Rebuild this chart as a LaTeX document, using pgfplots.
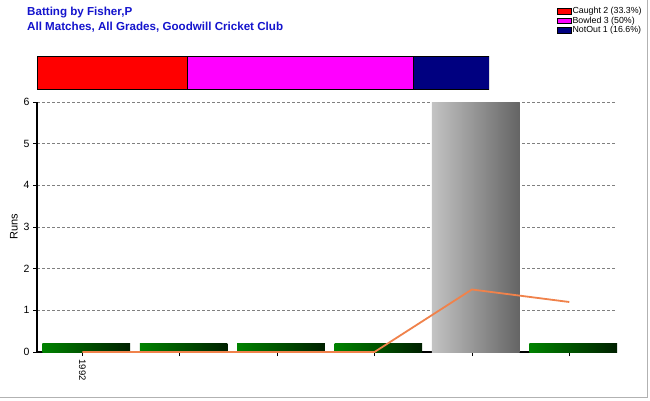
\documentclass[border=0pt]{standalone}
\usepackage{fontspec}
\setmainfont{Liberation Sans}
\usepackage{pgfplots}
\pgfplotsset{compat=1.18}
\definecolor{titleblue}{RGB}{20,20,205}
\definecolor{lineorange}{RGB}{240,130,75}
\definecolor{grlight}{RGB}{0,130,0}
\definecolor{grdark}{RGB}{0,32,0}
\definecolor{gylight}{RGB}{195,195,195}
\definecolor{gydark}{RGB}{100,100,100}
\definecolor{navyc}{RGB}{0,0,128}
\definecolor{magc}{RGB}{255,0,255}
\definecolor{redc}{RGB}{255,0,0}
\begin{document}
\begin{tikzpicture}[x=1pt,y=1pt]
\useasboundingbox (0,0) rectangle (650,400);
\fill[white] (0,0) rectangle (650,400);
\draw[gray!60, line width=1pt] (0,2.5) -- (647.5,2.5) -- (647.5,400);
\node[anchor=base west, text=titleblue, font=\fontsize{11.6}{14}\selectfont\bfseries, inner sep=0] at (27,384) {Batting by Fisher,P};
\node[anchor=base west, text=titleblue, font=\fontsize{11.6}{14}\selectfont\bfseries, inner sep=0] at (27,370) {All Matches, All Grades, Goodwill Cricket Club};

% stacked dismissal bar
\begin{axis}[
  at={(37pt,311pt)}, anchor=south west,
  scale only axis, width=452pt, height=32pt,
  xmin=0, xmax=6, ymin=0, ymax=1,
  hide axis, xbar stacked, bar width=1,
  mylegend/.style={legend image code/.code={\draw[##1, line width=0.6pt, draw=black] (0pt,-2.8pt) rectangle (14pt,2.8pt);}},
  legend style={at={(axis description cs:1.1504,2.58)}, anchor=north west, draw=none, fill=none,
    inner sep=0pt, row sep=0pt,
    font=\fontsize{8.8}{9}\selectfont,
    nodes={inner sep=0.8pt, text height=6.3pt, text depth=1.6pt}},
  legend cell align=left,
]
\addplot[fill=redc, draw=black, line width=1pt, mylegend] coordinates {(2,0.5)};
\addplot[fill=magc, draw=black, line width=1pt, mylegend] coordinates {(3,0.5)};
\addplot[fill=navyc, draw=black, line width=1pt, mylegend] coordinates {(1,0.5)};
\legend{Caught 2 (33.3\%), Bowled 3 (50\%), NotOut 1 (16.6\%)}
\end{axis}

% main runs chart
\begin{axis}[
  at={(37pt,48pt)}, anchor=south west,
  scale only axis, width=580pt, height=250pt,
  xmin=-0.465, xmax=5.49, ymin=0, ymax=6,
  axis x line*=bottom, axis y line*=left,
  axis line style={line width=1.8pt, -},
  xtick={0,1,2,3,4,5}, xticklabels={1992,,,,,},
  x tick label style={rotate=-90, anchor=west, font=\fontsize{9.5}{10}\selectfont},
  ytick={0,1,2,3,4,5,6},
  y tick label style={font=\fontsize{10.5}{12}\selectfont},
  tick style={black, thin}, tick align=outside, major tick length=4pt,
  ymajorgrids, grid style={gray, thin, dash pattern=on 3pt off 2pt},
  ylabel={Runs},
  ylabel style={at={(axis description cs:-0.0397,0.5)}, anchor=center, font=\fontsize{11}{13}\selectfont},
  /pgf/number format/assume math mode=true,
  greenbar/.style={ybar, bar width=0.9, bar shift=0.04, draw=none, left color=grlight, right color=grdark},
]
\addplot[greenbar] coordinates {(0,0.2)};
\addplot[greenbar] coordinates {(1,0.2)};
\addplot[greenbar] coordinates {(2,0.2)};
\addplot[greenbar] coordinates {(3,0.2)};
\addplot[greenbar] coordinates {(5,0.2)};
\addplot[ybar, bar width=0.9, bar shift=0.04, draw=none, left color=gylight, right color=gydark]
  coordinates {(4,6)};
\addplot[lineorange, line width=1.8pt, no marks]
  coordinates {(0,0) (1,0) (2,0) (3,0) (4,1.5) (5,1.2)};
\end{axis}
\end{tikzpicture}
\end{document}
